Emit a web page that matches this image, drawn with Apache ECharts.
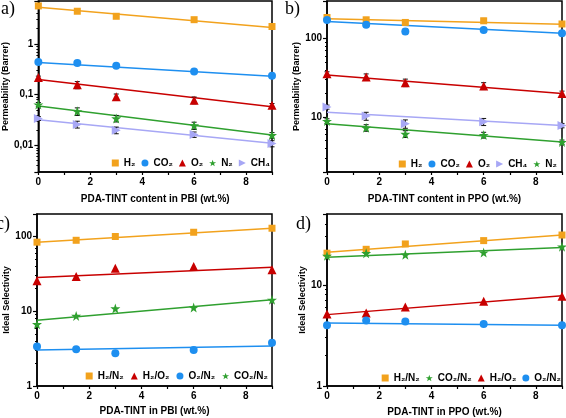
<!DOCTYPE html>
<html><head><meta charset="utf-8">
<script src="https://cdn.jsdelivr.net/npm/echarts@6/dist/echarts.min.js"></script>
<style>html,body{margin:0;padding:0;background:#fff}#c{width:566px;height:418px}</style>
</head><body><div id="c"></div><script>
// shared x positions (wt.% PDA-TINT)
const xValues = [0, 1.5, 3, 6, 9];
const fitX = [0, 9];

// panel a: permeability in PBI (Barrer)
const aH2 = [5.6, 4.4, 3.5, 3.0, 2.2];
const aCO2 = [0.44, 0.42, 0.37, 0.286, 0.235];
const aO2 = [0.217, 0.156, 0.091, 0.078, 0.062];
const aN2 = [0.064, 0.047, 0.034, 0.0247, 0.0159];
const aCH4 = [0.034, 0.026, 0.020, 0.0164, 0.0109];
const aH2err = [0.4, 0.4, 0.3, 0.25, 0.15];
const aCO2err = [0.03, 0.03, 0.02, 0.02, 0.015];
const aO2err = [0.015, 0.025, 0.012, 0.012, 0.005];
const aN2err = [0.006, 0.008, 0.005, 0.004, 0.002];
const aCH4err = [0.003, 0.004, 0.003, 0.002, 0.0015];
const aFitH2 = [5.3, 2.1], aFitCO2 = [0.43, 0.23], aFitO2 = [0.2, 0.058], aFitN2 = [0.06, 0.016], aFitCH4 = [0.032, 0.011];

// panel b: permeability in PPO (Barrer)
const bH2 = [185, 173, 160, 168, 153];
const bCO2 = [172, 150, 123, 128, 117];
const bO2 = [35.7, 32.4, 27.4, 24.9, 19.9];
const bCH4 = [13.4, 10.3, 8.2, 8.7, 7.8];
const bN2 = [8.9, 7.3, 6.1, 5.9, 4.8];
const bH2err = [10, 12, 10, 12, 8];
const bCO2err = [8, 10, 10, 8, 6];
const bO2err = [2, 3, 3, 2.5, 1.5];
const bCH4err = [0.8, 1.2, 1.0, 0.9, 0.5];
const bN2err = [0.6, 0.7, 0.6, 0.5, 0.3];
const bFitH2 = [178, 152], bFitCO2 = [165, 117], bFitO2 = [34.4, 19.9], bFitCH4 = [11.5, 7.8], bFitN2 = [8.2, 4.8];

// panel c: ideal selectivity, PBI
const cH2N2 = [84, 89, 100, 114, 129];
const cH2O2 = [25.5, 29.1, 37.6, 39.7, 35.8];
const cO2N2 = [3.37, 3.1, 2.74, 3.03, 3.8];
const cCO2N2 = [6.7, 8.66, 10.9, 11.2, 14.2];
const cFitH2N2 = [84, 129], cFitH2O2 = [28.2, 38.8], cFitO2N2 = [3.03, 3.43], cFitCO2N2 = [7.6, 14.2];

// panel d: ideal selectivity, PPO
const dH2N2 = [20.5, 22.4, 25.3, 27.3, 31.0];
const dCO2N2 = [19.3, 20.5, 19.8, 20.8, 23.8];
const dH2O2 = [5.14, 5.26, 6.03, 6.86, 7.68];
const dO2N2 = [3.98, 4.43, 4.33, 4.1, 3.98];
const dFitH2N2 = [21, 31], dFitCO2N2 = [18.7, 23.3], dFitH2O2 = [5.07, 7.8], dFitO2N2 = [4.2, 3.98];

const COL = {H2: '#F2A21D', CO2: '#1E8FF0', O2: '#C80000', N2: '#2FA02F', CH4: '#A7A7F5'};
const STAR = 'path://M50,0 L61.8,35.1 L98.1,35.1 L68.8,56.7 L79.4,91 L50,70 L20.6,91 L31.2,56.7 L1.9,35.1 L38.2,35.1 Z';
const RTRI = 'path://M0,0 L10,5 L0,10 Z';
const SYM = {
  sq: ['rect', 7], ci: ['circle', 8], tr: ['triangle', 9], st: [STAR, 10], rt: [RTRI, 9]
};
const FONT = '"Liberation Sans", Arial, sans-serif';

const series = [];
function pts(i, name, ys, sym, color) {
  series.push({type: 'scatter', name, xAxisIndex: i, yAxisIndex: i,
    data: xValues.map((x, k) => [x, ys[k]]), symbol: SYM[sym][0], symbolSize: SYM[sym][1],
    itemStyle: {color, opacity: 1}, clip: false, z: 5, emphasis: {disabled: true}});
}
function fit(i, ys, color) {
  series.push({type: 'line', name: 'fit', xAxisIndex: i, yAxisIndex: i,
    data: fitX.map((x, k) => [x, ys[k]]), symbol: 'none', silent: true,
    lineStyle: {color, width: 1.5}, z: 3});
}
function err(i, ys, es) {
  series.push({type: 'custom', name: 'err', xAxisIndex: i, yAxisIndex: i, silent: true, z: 4, clip: false,
    data: xValues.map((x, k) => [x, ys[k] - es[k], ys[k] + es[k]]),
    encode: {x: 0, y: [1, 2]},
    renderItem(params, api) {
      const x = api.value(0), lo = api.value(1), hi = api.value(2);
      const p1 = api.coord([x, lo]), p2 = api.coord([x, hi]);
      const w = 2.5, st = {stroke: '#111', lineWidth: 1};
      return {type: 'group', children: [
        {type: 'line', shape: {x1: p1[0], y1: p1[1], x2: p2[0], y2: p2[1]}, style: st},
        {type: 'line', shape: {x1: p1[0] - w, y1: p1[1], x2: p1[0] + w, y2: p1[1]}, style: st},
        {type: 'line', shape: {x1: p2[0] - w, y1: p2[1], x2: p2[0] + w, y2: p2[1]}, style: st}]};
    }});
}

// panel a
fit(0, aFitH2, COL.H2); fit(0, aFitCO2, COL.CO2); fit(0, aFitO2, COL.O2); fit(0, aFitN2, COL.N2); fit(0, aFitCH4, COL.CH4);
err(0, aH2, aH2err); err(0, aCO2, aCO2err); err(0, aO2, aO2err); err(0, aN2, aN2err); err(0, aCH4, aCH4err);
pts(0, 'H₂', aH2, 'sq', COL.H2); pts(0, 'CO₂', aCO2, 'ci', COL.CO2); pts(0, 'O₂', aO2, 'tr', COL.O2);
pts(0, 'N₂', aN2, 'st', COL.N2); pts(0, 'CH₄', aCH4, 'rt', COL.CH4);
// panel b
fit(1, bFitH2, COL.H2); fit(1, bFitCO2, COL.CO2); fit(1, bFitO2, COL.O2); fit(1, bFitCH4, COL.CH4); fit(1, bFitN2, COL.N2);
err(1, bH2, bH2err); err(1, bCO2, bCO2err); err(1, bO2, bO2err); err(1, bCH4, bCH4err); err(1, bN2, bN2err);
pts(1, 'H₂', bH2, 'sq', COL.H2); pts(1, 'CO₂', bCO2, 'ci', COL.CO2); pts(1, 'O₂', bO2, 'tr', COL.O2);
pts(1, 'CH₄', bCH4, 'rt', COL.CH4); pts(1, 'N₂', bN2, 'st', COL.N2);
// panel c
fit(2, cFitH2N2, COL.H2); fit(2, cFitH2O2, COL.O2); fit(2, cFitO2N2, COL.CO2); fit(2, cFitCO2N2, COL.N2);
pts(2, 'H₂/N₂', cH2N2, 'sq', COL.H2); pts(2, 'H₂/O₂', cH2O2, 'tr', COL.O2);
pts(2, 'O₂/N₂', cO2N2, 'ci', COL.CO2); pts(2, 'CO₂/N₂', cCO2N2, 'st', COL.N2);
// panel d
fit(3, dFitH2N2, COL.H2); fit(3, dFitCO2N2, COL.N2); fit(3, dFitH2O2, COL.O2); fit(3, dFitO2N2, COL.CO2);
pts(3, 'H₂/N₂', dH2N2, 'sq', COL.H2); pts(3, 'CO₂/N₂', dCO2N2, 'st', COL.N2);
pts(3, 'H₂/O₂', dH2O2, 'tr', COL.O2); pts(3, 'O₂/N₂', dO2N2, 'ci', COL.CO2);

const gridBox = [
  {left: 37, top: 1, width: 235, height: 171},
  {left: 327, top: 1, width: 235, height: 171},
  {left: 37, top: 214, width: 235, height: 172},
  {left: 327, top: 214, width: 235, height: 172}
];
const xNames = ['PDA-TINT content in PBI (wt.%)', 'PDA-TINT content in PPO (wt.%)', 'PDA-TINT in PBI (wt.%)', 'PDA-TINT in PPO (wt.%)'];
const yNames = ['Permeability (Barrer)', 'Permeability (Barrer)', 'Ideal Selectivity', 'Ideal Selectivity'];
const yMin = [0.003, 2, 1, 1];
const yMax = [7, 300, 200, 50];
const yNameGap = [23, 26, 24, 20];
const xNameGap = [22, 22, 20, 21];

function fmtY(v) { return String(Number(v.toPrecision(6))).replace('.', ','); }

const option = {
  animation: false,
  backgroundColor: '#fff',
  textStyle: {fontFamily: FONT},
  grid: gridBox.map(g => Object.assign({show: true, borderColor: '#000', borderWidth: 1.5, backgroundColor: 'transparent'}, g)),
  xAxis: gridBox.map((g, i) => ({
    type: 'value', gridIndex: i, min: 0, max: 9, interval: 1,
    axisLine: {show: true, lineStyle: {color: '#000', width: 1.5}},
    axisTick: {show: true, length: 3, lineStyle: {color: '#000', width: 1.2}},
    splitLine: {show: false},
    axisLabel: {formatter: v => (v % 2 === 0 ? String(v) : ''), color: '#000', fontSize: 10, fontWeight: 'bold', margin: 5, fontFamily: FONT},
    name: xNames[i], nameLocation: 'middle', nameGap: xNameGap[i],
    nameTextStyle: {color: '#000', fontSize: 10, fontWeight: 'bold', fontFamily: FONT}
  })),
  yAxis: gridBox.map((g, i) => ({
    type: 'log', logBase: 10, gridIndex: i, min: yMin[i], max: yMax[i],
    axisLine: {show: true, lineStyle: {color: '#000', width: 1.5}},
    axisTick: {show: true, length: 4, lineStyle: {color: '#000', width: 1.2}},
    minorTick: {show: true, splitNumber: 9, length: 2, lineStyle: {color: '#000', width: 1}},
    splitLine: {show: false}, minorSplitLine: {show: false},
    axisLabel: {formatter: fmtY, color: '#000', fontSize: 10, fontWeight: 'bold', margin: 5, fontFamily: FONT,
      showMinLabel: yMin[i] === 1, showMaxLabel: false},
    name: yNames[i], nameLocation: 'middle', nameGap: yNameGap[i],
    nameTextStyle: {color: '#000', fontSize: 9, fontWeight: 'bold', fontFamily: FONT}
  })),
  legend: [
    {data: ['H₂', 'CO₂', 'O₂', 'N₂', 'CH₄'], right: 296, top: 158, itemGap: 6},
    {data: ['H₂', 'CO₂', 'O₂', 'CH₄', 'N₂'], right: 9, top: 159, itemGap: 6},
    {data: ['H₂/N₂', 'H₂/O₂', 'O₂/N₂', 'CO₂/N₂'], right: 298, top: 371, itemGap: 7},
    {data: ['H₂/N₂', 'CO₂/N₂', 'H₂/O₂', 'O₂/N₂'], right: 5, top: 373, itemGap: 6}
  ].map(l => Object.assign({
    orient: 'horizontal', itemWidth: 7, itemHeight: 7, padding: 0,
    textStyle: {color: '#000', fontSize: 10, fontWeight: 'bold', fontFamily: FONT},
    selectedMode: false
  }, l)),
  graphic: [
    {type: 'text', left: 1, top: 0, style: {text: 'a)', font: '18px "Liberation Serif", serif', fill: '#000'}},
    {type: 'text', left: 285, top: 0, style: {text: 'b)', font: '18px "Liberation Serif", serif', fill: '#000'}},
    {type: 'text', left: -4, top: 215, style: {text: 'c)', font: '18px "Liberation Serif", serif', fill: '#000'}},
    {type: 'text', left: 296, top: 215, style: {text: 'd)', font: '18px "Liberation Serif", serif', fill: '#000'}}
  ],
  series
};
const chart = echarts.init(document.getElementById('c'), null, {renderer: 'canvas'});
chart.setOption(option);
</script></body></html>
